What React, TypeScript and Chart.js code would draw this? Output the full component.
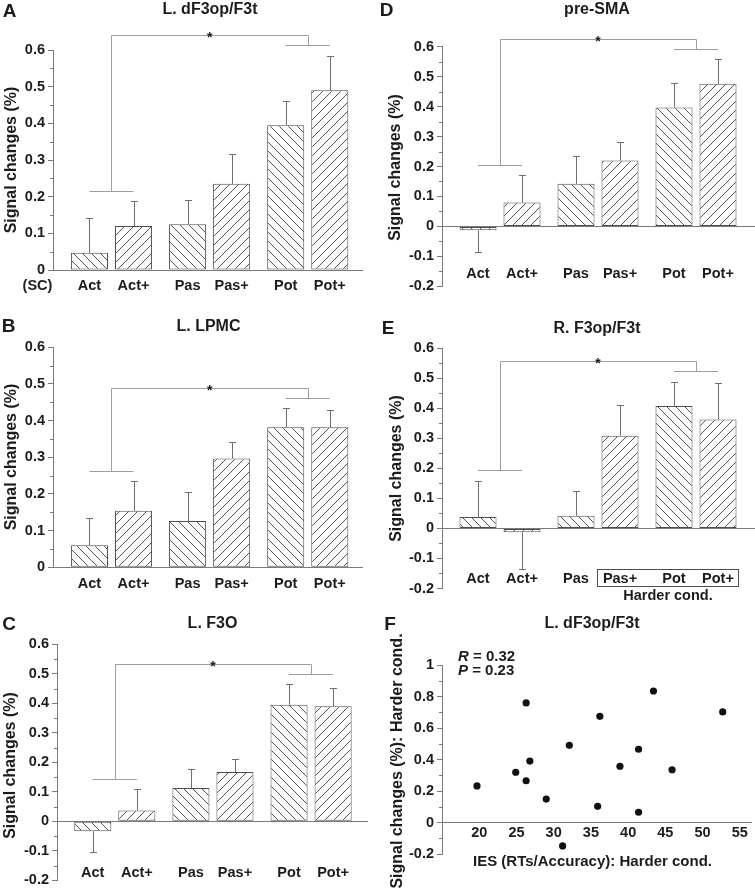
import React, { useEffect, useRef } from 'react';
import { Chart, registerables } from 'chart.js';

Chart.register(...registerables);

// ---------------- data ----------------
const conditions = ['Act', 'Pas', 'Pot'];
const plusConditions = ['Act+', 'Pas+', 'Pot+'];

// A  L. dF3op/F3t
const aMean = [0.047, 0.125, 0.395];
const aPlusMean = [0.12, 0.235, 0.49];
const aSem = [0.096, 0.065, 0.065];
const aPlusSem = [0.068, 0.082, 0.095];
const aBracket = [0.641, 0.2155, 0.6136];

// B  L. LPMC
const bMean = [0.06, 0.126, 0.382];
const bPlusMean = [0.154, 0.297, 0.382];
const bSem = [0.075, 0.078, 0.053];
const bPlusSem = [0.081, 0.044, 0.047];
const bBracket = [0.49, 0.263, 0.4627];

// C  L. F3O
const cMean = [-0.034, 0.113, 0.395];
const cPlusMean = [0.037, 0.167, 0.39];
const cSem = [0.07, 0.065, 0.07];
const cPlusSem = [0.071, 0.045, 0.063];
const cBracket = [0.534, 0.143, 0.499];

// D  pre-SMA
const dMean = [-0.013, 0.142, 0.397];
const dPlusMean = [0.08, 0.22, 0.476];
const dSem = [0.074, 0.092, 0.083];
const dPlusSem = [0.09, 0.063, 0.082];
const dBracket = [0.626, 0.205, 0.591];

// E  R. F3op/F3t
const eMean = [0.038, 0.042, 0.408];
const ePlusMean = [-0.013, 0.309, 0.363];
const eSem = [0.119, 0.083, 0.081];
const ePlusSem = [0.121, 0.102, 0.122];
const eBracket = [0.559, 0.195, 0.525];

// F  scatter
const iesHarder = [19.7, 24.9, 26.3, 26.3, 26.8, 29.0, 31.2, 32.1, 35.9, 36.2, 38.9, 41.4, 41.4, 43.4, 45.9, 52.7];
const signalHarder = [0.232, 0.319, 0.759, 0.265, 0.39, 0.149, -0.149, 0.49, 0.103, 0.674, 0.357, 0.065, 0.465, 0.835, 0.335, 0.702];
const fXTicks = [20, 25, 30, 35, 40, 45, 50, 55];

// ---------------- styles ----------------
const FONT = '"Liberation Sans", Arial, Helvetica, sans-serif';
const TEXT = '#1c1c1c';
const AXIS = '#7a7a7a';
const BRACKET = '#9d9d9d';
const ERR = '#6e6e6e';
const EDGE = '#4d4d4d';
const HATCH = '#555555';

type Rect = { x: number; y: number; w: number; h: number };
type Area = { left: number; top: number; right: number; bottom: number };

interface BarSpec {
  letter: string;
  title: string;
  rect: Rect;
  area: Area;
  yMin: number;
  yMax: number;
  xMin: number;
  xMax: number;
  base: number[];
  plus: number[];
  baseErr: number[];
  plusErr: number[];
  bracket: number[];
  letterPos: [number, number];
  titlePos: [number, number];
  yTitlePos: [number, number];
  labelY: number;
  sc?: boolean;
  harder?: boolean;
}

const barSpecs: BarSpec[] = [
  {
    letter: 'A', title: 'L. dF3op/F3t',
    rect: { x: 0, y: 0, w: 378, h: 298 },
    area: { left: 53, top: 50, right: 363, bottom: 270 },
    yMin: 0, yMax: 0.6, xMin: -0.596, xMax: 2.563,
    base: aMean, plus: aPlusMean, baseErr: aSem, plusErr: aPlusSem, bracket: aBracket,
    letterPos: [9.5, 11.5], titlePos: [210, 9.5], yTitlePos: [12, 160], labelY: 286, sc: true,
  },
  {
    letter: 'B', title: 'L. LPMC',
    rect: { x: 0, y: 298, w: 378, h: 298 },
    area: { left: 53, top: 347.3, right: 363, bottom: 567.3 },
    yMin: 0, yMax: 0.6, xMin: -0.596, xMax: 2.563,
    base: bMean, plus: bPlusMean, baseErr: bSem, plusErr: bPlusSem, bracket: bBracket,
    letterPos: [8.5, 326.5], titlePos: [208.5, 326.5], yTitlePos: [12, 457], labelY: 583.5,
  },
  {
    letter: 'C', title: 'L. F3O',
    rect: { x: 0, y: 596, w: 378, h: 296 },
    area: { left: 57, top: 644.3, right: 368, bottom: 886.7 },
    yMin: -0.2, yMax: 0.6, xMin: -0.589, xMax: 2.58,
    base: cMean, plus: cPlusMean, baseErr: cSem, plusErr: cPlusSem, bracket: cBracket,
    letterPos: [9, 625], titlePos: [212.5, 624], yTitlePos: [11, 765.5], labelY: 872.5,
  },
  {
    letter: 'D', title: 'pre-SMA',
    rect: { x: 378, y: 0, w: 377, h: 298 },
    area: { left: 442, top: 46.7, right: 755, bottom: 288.3 },
    yMin: -0.2, yMax: 0.6, xMin: -0.592, xMax: 2.602,
    base: dMean, plus: dPlusMean, baseErr: dSem, plusErr: dPlusSem, bracket: dBracket,
    letterPos: [386.5, 11], titlePos: [597, 10], yTitlePos: [396, 167.5], labelY: 273.5,
  },
  {
    letter: 'E', title: 'R. F3op/F3t',
    rect: { x: 378, y: 298, w: 377, h: 306 },
    area: { left: 442, top: 348.3, right: 755, bottom: 588.5 },
    yMin: -0.2, yMax: 0.6, xMin: -0.592, xMax: 2.602,
    base: eMean, plus: ePlusMean, baseErr: eSem, plusErr: ePlusSem, bracket: eBracket,
    letterPos: [388, 329], titlePos: [597, 328.5], yTitlePos: [397, 468.5], labelY: 578.5, harder: true,
  },
];

const fRect: Rect = { x: 378, y: 604, w: 377, h: 288 };
const fArea: Area = { left: 442, top: 665, right: 755, bottom: 854 };

// ---------------- helpers ----------------
function makeHatch(ctx: CanvasRenderingContext2D, back: boolean): CanvasPattern {
  const s = 9;
  const c = document.createElement('canvas');
  c.width = s;
  c.height = s;
  const g = c.getContext('2d')!;
  g.fillStyle = '#ffffff';
  g.fillRect(0, 0, s, s);
  g.strokeStyle = HATCH;
  g.lineWidth = 1;
  g.beginPath();
  for (const k of [-s, 0, s]) {
    if (back) {
      g.moveTo(k, 0);
      g.lineTo(k + s, s);
    } else {
      g.moveTo(k, s);
      g.lineTo(k + s, 0);
    }
  }
  g.stroke();
  return ctx.createPattern(c, 'repeat')!;
}

function fmtTick(v: number | string): string {
  const n = Number(v);
  if (Math.abs(n) < 1e-9) return '0';
  return parseFloat(n.toFixed(2)).toString();
}

function font(size: number, style = ''): string {
  return `${style} bold ${size}px ${FONT}`.trim();
}

function text(ctx: CanvasRenderingContext2D, s: string, x: number, y: number, size: number, align: CanvasTextAlign = 'center') {
  ctx.font = font(size);
  ctx.fillStyle = TEXT;
  ctx.textAlign = align;
  ctx.textBaseline = 'middle';
  ctx.fillText(s, x, y);
}

function vText(ctx: CanvasRenderingContext2D, s: string, x: number, y: number, size: number) {
  ctx.save();
  ctx.translate(x, y);
  ctx.rotate(-Math.PI / 2);
  text(ctx, s, 0, 0, size);
  ctx.restore();
}

function minorTicks(ctx: CanvasRenderingContext2D, chart: any, from: number, to: number, step: number) {
  const ys = chart.scales.y;
  const left = chart.chartArea.left;
  ctx.save();
  ctx.strokeStyle = AXIS;
  ctx.lineWidth = 1;
  ctx.beginPath();
  for (let v = from; v < to - 1e-9; v += step) {
    const py = Math.round(ys.getPixelForValue(v)) + 0.5;
    ctx.moveTo(left - 3, py);
    ctx.lineTo(left, py);
  }
  ctx.stroke();
  ctx.restore();
}

function yAxisOptions(min: number, max: number, step: number, width: number, zeroLine: boolean) {
  return {
    type: 'linear',
    min,
    max,
    afterFit: (s: any) => {
      s.width = width;
    },
    grid: {
      display: true,
      drawOnChartArea: true,
      drawTicks: true,
      tickLength: 5,
      lineWidth: 1,
      tickWidth: 1,
      tickColor: AXIS,
      color: (c: any) => (zeroLine && c.tick && Math.abs(c.tick.value) < 1e-9 ? AXIS : 'rgba(0,0,0,0)'),
    },
    border: { display: true, color: AXIS, width: 1 },
    ticks: {
      stepSize: step,
      padding: 3,
      color: TEXT,
      font: { family: FONT, size: 14.5, weight: 'bold' },
      callback: (v: any) => fmtTick(v),
    },
  };
}

// ---------------- bar panel ----------------
function buildBar(canvas: HTMLCanvasElement, spec: BarSpec): Chart {
  const ctx = canvas.getContext('2d')!;
  const { rect, area } = spec;
  const ox = rect.x;
  const oy = rect.y;

  const decor = {
    id: 'barDecor',
    afterDatasetsDraw(chart: any) {
      const c = chart.ctx as CanvasRenderingContext2D;
      const ys = chart.scales.y;
      c.save();
      c.strokeStyle = ERR;
      c.lineWidth = 1;
      [spec.base, spec.plus].forEach((vals, di) => {
        const errs = di === 0 ? spec.baseErr : spec.plusErr;
        const meta = chart.getDatasetMeta(di);
        meta.data.forEach((el: any, j: number) => {
          const v = vals[j];
          const e = errs[j];
          const end = v >= 0 ? v + e : v - e;
          const x = Math.round(el.x) + 0.5;
          const y1 = ys.getPixelForValue(v);
          const y2 = Math.round(ys.getPixelForValue(end)) + 0.5;
          c.beginPath();
          c.moveTo(x, y1);
          c.lineTo(x, y2);
          c.moveTo(x - 3.5, y2);
          c.lineTo(x + 3.5, y2);
          c.stroke();
        });
      });
      c.restore();
    },
    afterDraw(chart: any) {
      const c = chart.ctx as CanvasRenderingContext2D;
      const xs = chart.scales.x;
      const ys = chart.scales.y;
      minorTicks(c, chart, spec.yMin + 0.05, spec.yMax, 0.1);

      // significance bracket
      const m0 = chart.getDatasetMeta(0);
      const m1 = chart.getDatasetMeta(1);
      const g0 = Math.round(xs.getPixelForValue(0)) + 0.5;
      const g1 = xs.getPixelForValue(1);
      const g2 = Math.round(xs.getPixelForValue(2)) + 0.5;
      const [bt, bl, br] = spec.bracket.map((v) => Math.round(ys.getPixelForValue(v)) + 0.5);
      c.save();
      c.strokeStyle = BRACKET;
      c.lineWidth = 1;
      c.beginPath();
      c.moveTo(m0.data[0].x, bl);
      c.lineTo(m1.data[0].x, bl);
      c.moveTo(g0, bl);
      c.lineTo(g0, bt);
      c.lineTo(g2, bt);
      c.lineTo(g2, br);
      c.moveTo(m0.data[2].x, br);
      c.lineTo(m1.data[2].x, br);
      c.stroke();
      c.font = font(14);
      c.fillStyle = TEXT;
      c.textAlign = 'center';
      c.textBaseline = 'alphabetic';
      c.fillText('*', g1, bt + 6);
      c.restore();

      // texts
      text(c, spec.letter, spec.letterPos[0] - ox, spec.letterPos[1] - oy, 19);
      text(c, spec.title, spec.titlePos[0] - ox, spec.titlePos[1] - oy, 16);
      vText(c, 'Signal changes (%)', spec.yTitlePos[0] - ox, spec.yTitlePos[1] - oy, 16);
      const ly = spec.labelY - oy;
      conditions.forEach((lab, j) => text(c, lab, m0.data[j].x, ly, 14.5));
      plusConditions.forEach((lab, j) => text(c, lab, m1.data[j].x, ly, 14.5));
      if (spec.sc) text(c, '(SC)', 37.5 - ox, ly, 14.5);
      if (spec.harder) {
        const bx1 = Math.round(m1.data[1].x - 23) + 0.5;
        const bx2 = Math.round(m1.data[2].x + 20) + 0.5;
        c.save();
        c.strokeStyle = EDGE;
        c.lineWidth = 1;
        c.strokeRect(bx1, 569.5 - oy, bx2 - bx1, 17);
        c.restore();
        text(c, 'Harder cond.', (bx1 + bx2) / 2, 596 - oy, 14.5);
      }
    },
  };

  const groupIdx = conditions.map((_, i) => i);

  return new Chart(canvas, {
    type: 'bar',
    data: {
      datasets: [
        {
          data: spec.base.map((v, i) => ({ x: groupIdx[i], y: v })),
          backgroundColor: makeHatch(ctx, true),
          borderColor: EDGE,
          borderWidth: 1,
          borderSkipped: false,
          categoryPercentage: 0.898,
          barPercentage: 0.841,
        },
        {
          data: spec.plus.map((v, i) => ({ x: groupIdx[i], y: v })),
          backgroundColor: makeHatch(ctx, false),
          borderColor: EDGE,
          borderWidth: 1,
          borderSkipped: false,
          categoryPercentage: 0.898,
          barPercentage: 0.841,
        },
      ],
    } as any,
    options: {
      responsive: false,
      animation: false,
      devicePixelRatio: 1,
      events: [],
      layout: {
        padding: {
          left: 0,
          top: area.top - oy,
          right: ox + rect.w - area.right,
          bottom: oy + rect.h - area.bottom,
        },
      },
      plugins: { legend: { display: false }, tooltip: { enabled: false } },
      scales: {
        x: {
          type: 'linear',
          min: spec.xMin,
          max: spec.xMax,
          display: false,
          offset: false,
          afterBuildTicks: (s: any) => {
            s.ticks = groupIdx.map((v) => ({ value: v }));
          },
        },
        y: yAxisOptions(spec.yMin, spec.yMax, 0.1, area.left - ox, true),
      },
    } as any,
    plugins: [decor as any],
  });
}

// ---------------- scatter panel ----------------
function buildScatter(canvas: HTMLCanvasElement): Chart {
  const ox = fRect.x;
  const oy = fRect.y;
  const decor = {
    id: 'scatterDecor',
    afterDraw(chart: any) {
      const c = chart.ctx as CanvasRenderingContext2D;
      minorTicks(c, chart, -0.1, 1, 0.2);
      text(c, 'F', 390 - ox, 625 - oy, 19);
      text(c, 'L. dF3op/F3t', 592 - ox, 624 - oy, 16);
      vText(c, 'Signal changes (%): Harder cond.', 398 - ox, 761 - oy, 16);
      text(c, 'IES (RTs/Accuracy): Harder cond.', 592.5 - ox, 862 - oy, 15);
      const lines: [string, string, number][] = [
        ['R', ' = 0.32', 657],
        ['P', ' = 0.23', 671],
      ];
      lines.forEach(([sym, rest, y]) => {
        c.font = font(15, 'italic');
        c.fillStyle = TEXT;
        c.textAlign = 'left';
        c.textBaseline = 'middle';
        c.fillText(sym, 458 - ox, y - oy);
        const w = c.measureText(sym).width;
        c.font = font(15);
        c.fillText(rest, 458 - ox + w, y - oy);
      });
    },
  };

  return new Chart(canvas, {
    type: 'scatter',
    data: {
      datasets: [
        {
          data: iesHarder.map((x, i) => ({ x, y: signalHarder[i] })),
          backgroundColor: '#111111',
          borderWidth: 0,
          pointRadius: 3.6,
        },
      ],
    },
    options: {
      responsive: false,
      animation: false,
      devicePixelRatio: 1,
      events: [],
      layout: {
        padding: {
          left: 0,
          top: fArea.top - oy,
          right: ox + fRect.w - fArea.right,
          bottom: oy + fRect.h - fArea.bottom,
        },
      },
      plugins: { legend: { display: false }, tooltip: { enabled: false } },
      scales: {
        x: {
          type: 'linear',
          position: { y: 0 },
          min: 15,
          max: 56.5,
          grid: { display: false, drawTicks: false },
          border: { display: true, color: AXIS, width: 1 },
          afterBuildTicks: (s: any) => {
            s.ticks = fXTicks.map((v) => ({ value: v }));
          },
          ticks: {
            autoSkip: false,
            maxRotation: 0,
            padding: 2,
            color: TEXT,
            font: { family: FONT, size: 14.5, weight: 'bold' },
            callback: (v: any) => String(v),
          },
        },
        y: yAxisOptions(-0.2, 1, 0.2, fArea.left - ox, false),
      },
    } as any,
    plugins: [decor as any],
  });
}

// ---------------- react ----------------
function ChartCanvas({ rect, build }: { rect: Rect; build: (c: HTMLCanvasElement) => Chart }) {
  const ref = useRef<HTMLCanvasElement>(null);
  useEffect(() => {
    if (!ref.current) return;
    const chart = build(ref.current);
    return () => chart.destroy();
  }, []);
  return (
    <canvas
      ref={ref}
      width={rect.w}
      height={rect.h}
      style={{ position: 'absolute', left: rect.x, top: rect.y, width: rect.w, height: rect.h }}
    />
  );
}

export default function App() {
  return (
    <div
      style={{
        position: 'fixed',
        left: 0,
        top: 0,
        width: 755,
        height: 892,
        background: '#ffffff',
        overflow: 'hidden',
      }}
    >
      {barSpecs.map((s) => (
        <ChartCanvas key={s.letter} rect={s.rect} build={(c) => buildBar(c, s)} />
      ))}
      <ChartCanvas rect={fRect} build={buildScatter} />
    </div>
  );
}
